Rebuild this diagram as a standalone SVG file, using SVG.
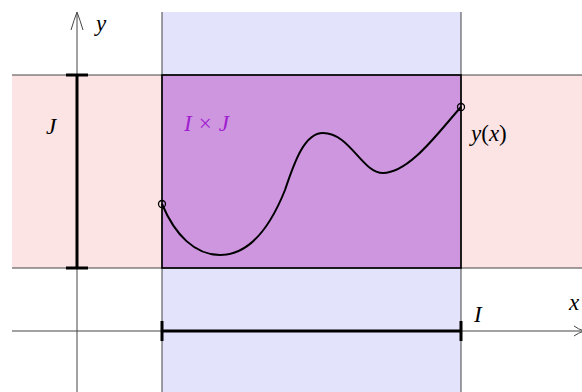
<svg xmlns="http://www.w3.org/2000/svg" width="582" height="392" viewBox="0 0 582 392">
<style>
.thin{stroke:#444;stroke-width:1;fill:none}
.thick{stroke:#000;stroke-width:3;fill:none}
.math{font-family:"Liberation Serif","DejaVu Serif",serif;font-style:italic;font-size:23px;fill:#000}
.up{font-style:normal}
</style>
<rect x="162" y="12" width="299" height="380" fill="#e3e3fb"/>
<rect x="12" y="75" width="570" height="193" fill="#fde4e4"/>
<rect id="IxJ" x="162" y="75" width="299" height="193" fill="#cf96e0"/>
<g id="grid">
<line class="thin" x1="12" y1="75" x2="582" y2="75"/>
<line class="thin" x1="12" y1="268" x2="582" y2="268"/>
<line class="thin" x1="162" y1="12" x2="162" y2="392"/>
<line class="thin" x1="461" y1="12" x2="461" y2="392"/>
</g>
<rect x="162" y="75" width="299" height="193" fill="none" stroke="#000" stroke-width="1.6"/>
<g id="axes">
<line class="thin" x1="77" y1="392" x2="77" y2="13"/>
<path class="thin" d="M71,30 Q74,20 77,12 Q80,20 83,30"/>
<line class="thin" x1="12" y1="331" x2="582" y2="331"/>
<path class="thin" d="M574,326 Q578,329 584,331 Q578,333 574,336"/>
<text class="math" x="96" y="31">y</text>
<text class="math" x="569" y="310">x</text>
</g>
<g id="J">
<line class="thick" x1="77" y1="75" x2="77" y2="268"/>
<line class="thick" x1="66" y1="75" x2="88" y2="75"/>
<line class="thick" x1="66" y1="268" x2="88" y2="268"/>
<text class="math" x="46" y="134">J</text>
</g>
<g id="I">
<line class="thick" x1="162" y1="331" x2="461" y2="331"/>
<line class="thick" x1="162" y1="321" x2="162" y2="341"/>
<line class="thick" x1="461" y1="321" x2="461" y2="341"/>
<text class="math" x="474" y="322">I</text>
</g>
<text class="math" x="184" y="131" style="fill:#a020d0">I<tspan class="up" dx="7">×</tspan><tspan dx="7">J</tspan></text>
<g id="curve">
<path d="M162,204 C175,235 195,255 220,255 C255,255 275,215 285,190 C295,160 305,133 323,133 C350,133 362,173 383,173 C410,173 440,130 461,107" fill="none" stroke="#000" stroke-width="2"/>
<circle cx="162" cy="204" r="3.5" fill="none" stroke="#000" stroke-width="1.3"/>
<circle cx="461" cy="107" r="3.5" fill="none" stroke="#000" stroke-width="1.3"/>
<text class="math" x="471" y="141">y<tspan class="up">(</tspan>x<tspan class="up">)</tspan></text>
</g>
</svg>
